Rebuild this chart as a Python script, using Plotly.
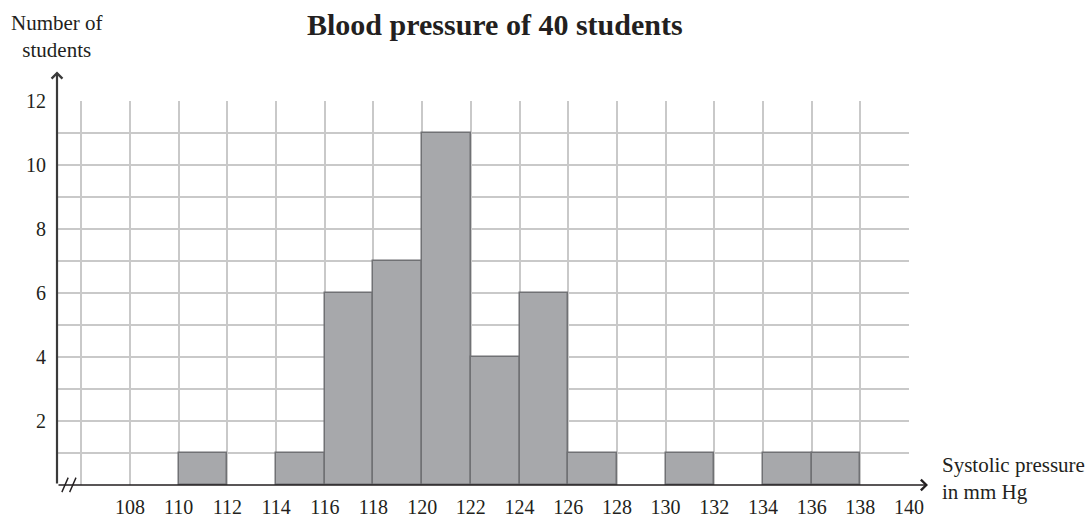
import plotly.graph_objects as go

# ---- data ----
bin_starts = [110, 114, 116, 118, 120, 122, 124, 126, 130, 134, 136]
counts = [1, 1, 6, 7, 11, 4, 6, 1, 1, 1, 1]
bin_width = 2
x_tick_vals = [108, 110, 112, 114, 116, 118, 120, 122, 124, 126, 128, 130, 132, 134, 136, 138, 140]
x_tick_text = [str(v) for v in x_tick_vals]
y_tick_vals = [2, 4, 6, 8, 10, 12]
y_tick_text = [str(v) for v in y_tick_vals]

title_text = "<b>Blood pressure of 40 students</b>"
y_label = "Number of<br>students"
x_label = "Systolic pressure<br>in mm Hg"

FONT = "Liberation Serif, Times New Roman, serif"
GRID = "#c9c9c9"
INK = "#231f20"

centers = [s + bin_width / 2 for s in bin_starts]

fig = go.Figure()
fig.add_trace(go.Bar(
    x=centers, y=counts, width=[bin_width] * len(counts),
    marker=dict(color="#a7a8ab", line=dict(color="#707174", width=1.5)),
    hoverinfo="x+y", showlegend=False,
))

X0, X1 = 105, 140
Y0, Y1 = 0, 12

fig.update_layout(
    width=1088, height=523,
    margin=dict(l=57, r=179, t=101, b=38, autoexpand=False),
    paper_bgcolor="white", plot_bgcolor="white",
    font=dict(family=FONT, size=20, color=INK),
    bargap=0,
    xaxis=dict(
        range=[X0, X1], tickvals=x_tick_vals, ticktext=x_tick_text,
        showgrid=True, gridcolor=GRID, gridwidth=1.5,
        minor=dict(tick0=106, dtick=2, showgrid=True, gridcolor=GRID, gridwidth=1.5),
        zeroline=False, showline=False, automargin=False,
        ticks="outside", ticklen=4, tickcolor="rgba(0,0,0,0)",
        tickfont=dict(size=20, family=FONT, color=INK),
        fixedrange=True,
    ),
    yaxis=dict(
        range=[Y0, Y1], tickvals=y_tick_vals, ticktext=y_tick_text,
        showgrid=True, gridcolor=GRID, gridwidth=1.5,
        minor=dict(tick0=0, dtick=1, showgrid=True, gridcolor=GRID, gridwidth=1.5),
        zeroline=False, showline=False, automargin=False,
        ticks="outside", ticklen=6, tickcolor="rgba(0,0,0,0)",
        tickfont=dict(size=20, family=FONT, color=INK),
        fixedrange=True,
    ),
)

# axis lines with open arrow heads
fig.add_annotation(x=140.78, y=0, ax=X0, ay=0, xref="x", yref="y", axref="x", ayref="y",
                   text="", showarrow=True, arrowhead=4, arrowwidth=1.5, arrowsize=1.4,
                   arrowcolor=INK)
fig.add_annotation(x=X0, y=12.92, ax=X0, ay=0, xref="x", yref="y", axref="x", ayref="y",
                   text="", showarrow=True, arrowhead=4, arrowwidth=2.2, arrowsize=0.95,
                   arrowcolor="#3a3a3a")
# axis break marker (two short slanted strokes)
for bx in (105.46, 105.78):
    fig.add_annotation(x=bx, y=0.23, xref="x", yref="y", ax=-7, ay=16,
                       text="", showarrow=True, arrowhead=0, arrowwidth=1.4,
                       arrowcolor=INK, standoff=0, startstandoff=0)

# title and axis labels
fig.add_annotation(x=0.5137, y=1.198, xref="paper", yref="paper", text=title_text,
                   showarrow=False, font=dict(size=30, family=FONT, color=INK),
                   xanchor="center", yanchor="middle")
fig.add_annotation(x=0.0, y=1.167, xref="paper", yref="paper", text=y_label,
                   showarrow=False, font=dict(size=21, family=FONT, color=INK),
                   xanchor="center", yanchor="middle", align="center")
fig.add_annotation(x=1.0367, y=0.016, xref="paper", yref="paper", text=x_label,
                   showarrow=False, font=dict(size=21, family=FONT, color=INK),
                   xanchor="left", yanchor="middle", align="left")

fig.write_html("out.html", config={"displayModeBar": False},
               post_script="document.body.style.margin='0px';")
